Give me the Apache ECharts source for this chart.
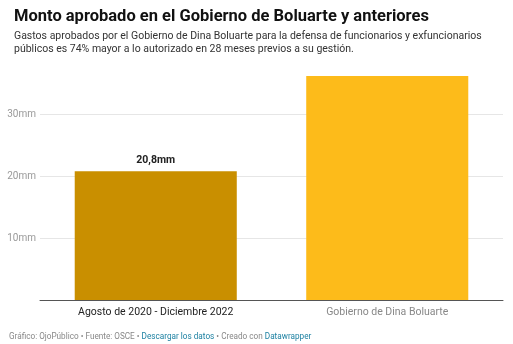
<!DOCTYPE html>
<html>
<head>
<meta charset="utf-8">
<script src="https://cdn.jsdelivr.net/npm/echarts@6/dist/echarts.min.js"></script>
<style>
  html, body { margin: 0; padding: 0; background: #fff; }
  #chart { width: 513px; height: 344px; }
</style>
</head>
<body>
<div id="chart"></div>
<script>
// Periods compared and approved amounts (millones de soles, "mm")
const categories = ['Agosto de 2020 - Diciembre 2022', 'Gobierno de Dina Boluarte'];
const amounts = [20.8, 36.2];
const barColors = ['#c98f00', '#fdbb1a'];
const labelColors = ['#222222', '#888888'];
const showValue = [true, false];
const yTicks = [10, 20, 30];

const chart = echarts.init(document.getElementById('chart'), null, { renderer: 'canvas' });

const fmt = v => String(v).replace('.', ',') + 'mm';

chart.setOption({
  animation: false,
  textStyle: { fontFamily: 'Roboto' },
  title: [
    {
      text: 'Monto aprobado en el Gobierno de Boluarte y anteriores',
      left: 9, top: 3,
      textStyle: { fontSize: 16.5, fontWeight: 'bold', color: '#111', fontFamily: 'Roboto' }
    },
    {
      text: 'Gastos aprobados por el Gobierno de Dina Boluarte para la defensa de funcionarios y exfuncionarios\npúblicos es 74% mayor a lo autorizado en 28 meses previos a su gestión.',
      left: 9, top: 25,
      textStyle: { fontSize: 10.5, fontWeight: 'normal', color: '#333', lineHeight: 13, fontFamily: 'Roboto' }
    }
  ],
  grid: { left: 40, right: 10, top: 76, bottom: 44, containLabel: false },
  xAxis: {
    type: 'category',
    data: categories.map((c, i) => ({ value: c, textStyle: { color: labelColors[i] } })),
    axisLine: { lineStyle: { color: '#555', width: 1 } },
    axisTick: { show: false },
    axisLabel: { fontSize: 10.5, margin: 7, fontFamily: 'Roboto' }
  },
  yAxis: {
    type: 'value',
    min: 0, max: 36.2, interval: 10,
    axisLine: { show: false },
    axisTick: { show: false },
    axisLabel: {
      fontSize: 10, color: '#999', margin: 4, fontFamily: 'Roboto',
      formatter: v => (yTicks.includes(v) ? v + 'mm' : '')
    },
    splitLine: {
      lineStyle: { color: '#e6e6e6', width: 1 },
      showMinLine: false, showMaxLine: false
    }
  },
  series: [{
    type: 'bar',
    barWidth: '70%',
    data: amounts.map((v, i) => ({
      value: v,
      itemStyle: { color: barColors[i] },
      label: { show: showValue[i] }
    })),
    label: {
      position: 'top', distance: 5,
      fontSize: 10.5, fontWeight: 'bold', color: '#222', fontFamily: 'Roboto',
      formatter: p => fmt(p.value)
    }
  }],
  graphic: [{
    type: 'text',
    left: 9, top: 333,
    style: {
      text: '{g|Gráfico: OjoPúblico • Fuente: OSCE • }{b|Descargar los datos}{g| • Creado con }{b|Datawrapper}',
      rich: {
        g: { fontSize: 8.2, fill: '#888', fontFamily: 'Roboto' },
        b: { fontSize: 8.2, fill: '#1d81a2', fontFamily: 'Roboto' }
      }
    }
  }]
});
</script>
</body>
</html>
